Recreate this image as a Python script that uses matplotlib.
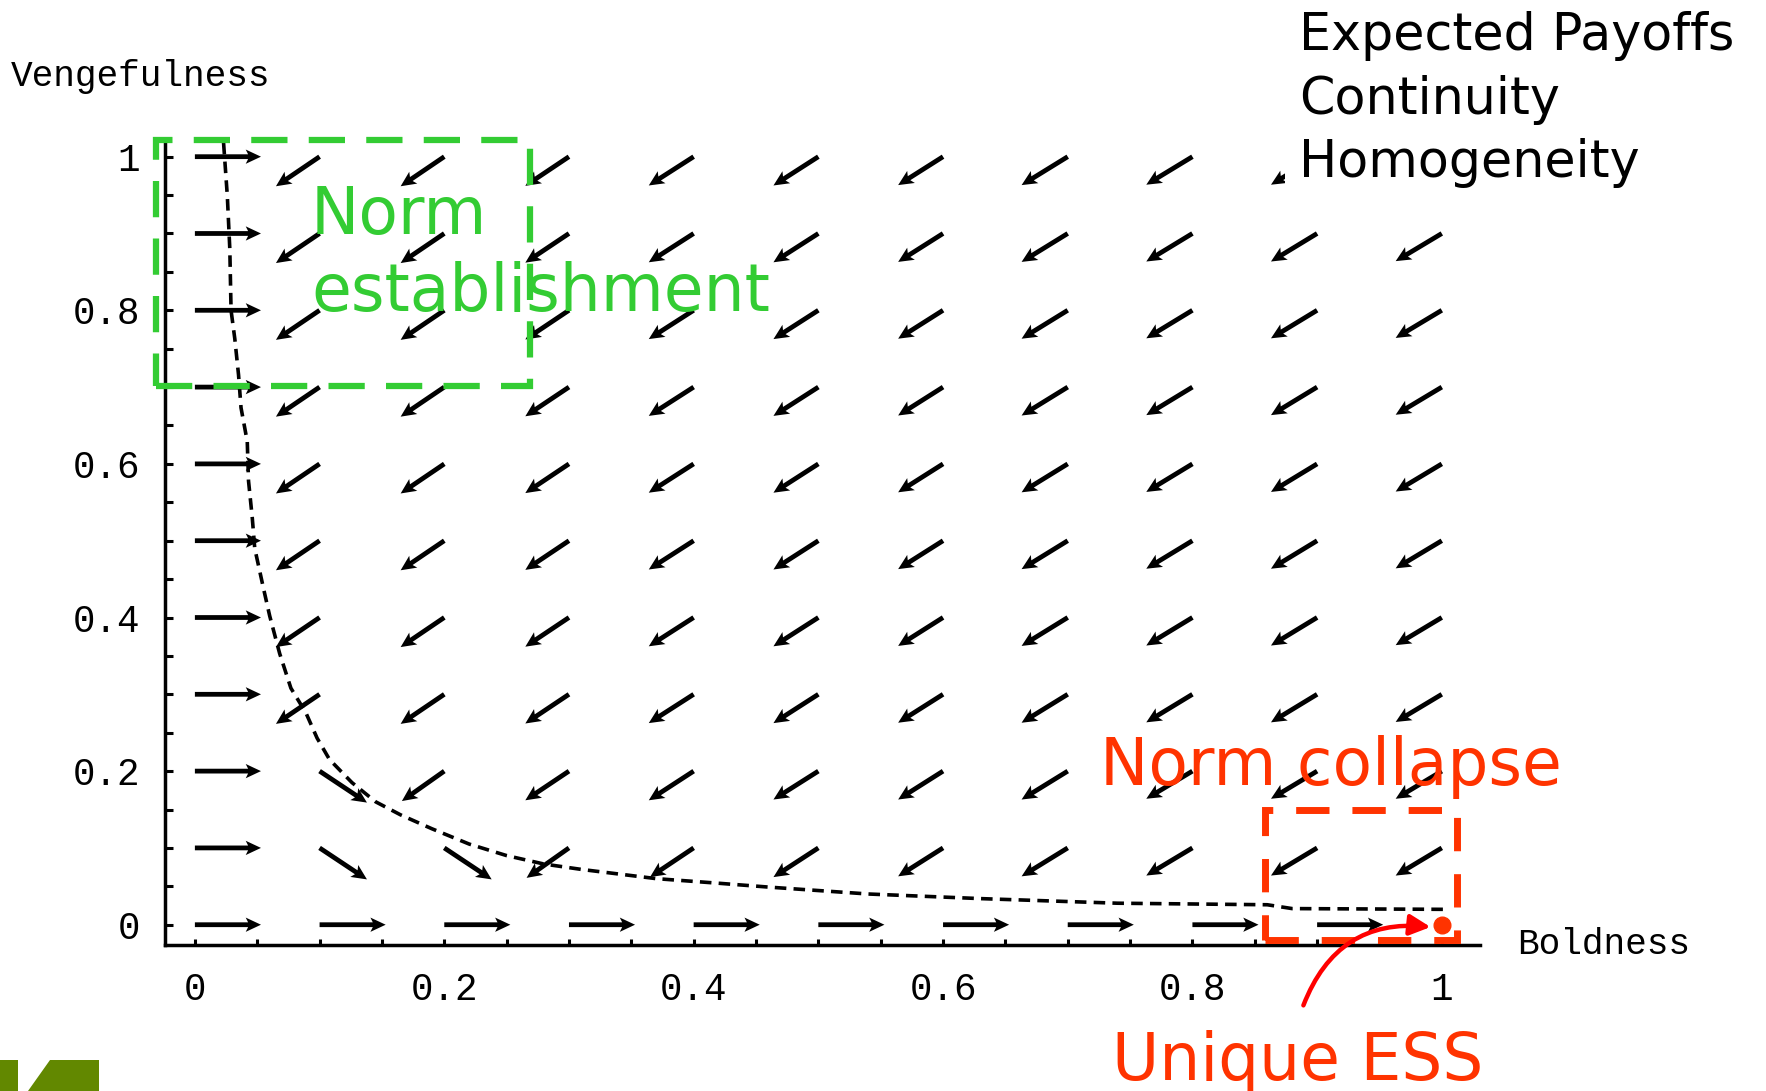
import matplotlib.pyplot as plt
import matplotlib.patches as mpatches
import numpy as np

plt.rcParams['font.family'] = ['Liberation Mono', 'DejaVu Sans Mono']

# grid of the vector field
boldness = [0.0, 0.1, 0.2, 0.3, 0.4, 0.5, 0.6, 0.7, 0.8, 0.9, 1.0]
vengefulness = [0.0, 0.1, 0.2, 0.3, 0.4, 0.5, 0.6, 0.7, 0.8, 0.9, 1.0]

# arrow components, one row per vengefulness value (bottom to top)
U = [
    [0.053, 0.053, 0.053, 0.053, 0.053, 0.053, 0.053, 0.053, 0.053, 0.053, 0.0],
    [0.053, 0.038, 0.038, -0.034, -0.035, -0.036, -0.036, -0.037, -0.037, -0.037, -0.037],
    [0.053, 0.038, -0.034, -0.035, -0.036, -0.036, -0.036, -0.037, -0.037, -0.037, -0.037],
    [0.053, -0.035, -0.035, -0.035, -0.036, -0.036, -0.036, -0.037, -0.037, -0.037, -0.037],
    [0.053, -0.035, -0.035, -0.035, -0.036, -0.036, -0.036, -0.037, -0.037, -0.037, -0.037],
    [0.053, -0.035, -0.035, -0.035, -0.036, -0.036, -0.036, -0.037, -0.037, -0.037, -0.037],
    [0.053, -0.035, -0.035, -0.035, -0.036, -0.036, -0.036, -0.037, -0.037, -0.037, -0.037],
    [0.053, -0.035, -0.035, -0.035, -0.036, -0.036, -0.036, -0.037, -0.037, -0.037, -0.037],
    [0.053, -0.035, -0.035, -0.035, -0.036, -0.036, -0.036, -0.037, -0.037, -0.037, -0.037],
    [0.053, -0.035, -0.035, -0.035, -0.036, -0.036, -0.036, -0.037, -0.037, -0.037, -0.037],
    [0.053, -0.035, -0.035, -0.035, -0.036, -0.036, -0.036, -0.037, -0.037, -0.037, -0.037],
]
V = [
    [0.0, 0.0, 0.0, 0.0, 0.0, 0.0, 0.0, 0.0, 0.0, 0.0, 0.0],
    [0.0, -0.041, -0.041, -0.039, -0.038, -0.038, -0.037, -0.037, -0.036, -0.036, -0.036],
    [0.0, -0.041, -0.039, -0.038, -0.038, -0.037, -0.037, -0.037, -0.036, -0.036, -0.036],
    [0.0, -0.0385, -0.0385, -0.038, -0.0375, -0.0375, -0.037, -0.037, -0.0365, -0.0365, -0.036],
    [0.0, -0.0385, -0.0385, -0.038, -0.0375, -0.0375, -0.037, -0.037, -0.0365, -0.0365, -0.036],
    [0.0, -0.0385, -0.0385, -0.038, -0.0375, -0.0375, -0.037, -0.037, -0.0365, -0.0365, -0.036],
    [0.0, -0.0385, -0.0385, -0.038, -0.0375, -0.0375, -0.037, -0.037, -0.0365, -0.0365, -0.036],
    [0.0, -0.0385, -0.0385, -0.038, -0.0375, -0.0375, -0.037, -0.037, -0.0365, -0.0365, -0.036],
    [0.0, -0.0385, -0.0385, -0.038, -0.0375, -0.0375, -0.037, -0.037, -0.0365, -0.0365, -0.036],
    [0.0, -0.0385, -0.0385, -0.038, -0.0375, -0.0375, -0.037, -0.037, -0.0365, -0.0365, -0.036],
    [0.0, -0.0385, -0.0385, -0.038, -0.0375, -0.0375, -0.037, -0.037, -0.0365, -0.0365, -0.036],
]

# dashed separatrix
curve_x = [0.023, 0.026, 0.028, 0.029, 0.032, 0.035, 0.037, 0.042, 0.043, 0.046, 0.048,
           0.055, 0.060, 0.068, 0.077, 0.089, 0.098, 0.108, 0.126, 0.145, 0.165, 0.19,
           0.22, 0.25, 0.28, 0.31, 0.33, 0.37, 0.42, 0.46, 0.54, 0.63, 0.74, 0.86, 0.88, 1.005]
curve_y = [1.018, 0.949, 0.88, 0.80, 0.763, 0.716, 0.673, 0.629, 0.578, 0.53, 0.49,
           0.438, 0.402, 0.353, 0.308, 0.276, 0.243, 0.215, 0.185, 0.16, 0.143, 0.125,
           0.105, 0.09, 0.079, 0.072, 0.068, 0.06, 0.054, 0.049, 0.04, 0.034, 0.028, 0.026, 0.021, 0.02]

ess_x = [1.0]
ess_y = [0.0]

x_ticks = [0, 0.2, 0.4, 0.6, 0.8, 1]
x_tick_labels = ['0', '0.2', '0.4', '0.6', '0.8', '1']
y_ticks = [0, 0.2, 0.4, 0.6, 0.8, 1]
y_tick_labels = ['0', '0.2', '0.4', '0.6', '0.8', '1']
minor_ticks = np.arange(0, 1.001, 0.05)

W, H = 1766, 1091
fig = plt.figure(figsize=(W / 100, H / 100), dpi=100)
ax = fig.add_axes([0, 0, 1, 1])
ax.set_xlim(-0.1563, 1.2600)
ax.set_ylim(-0.2165, 1.2040)

# axes lines
for s in ['top', 'right']:
    ax.spines[s].set_visible(False)
ax.spines['left'].set_position(('data', -0.024))
ax.spines['left'].set_bounds(-0.027, 1.02)
ax.spines['bottom'].set_position(('data', -0.027))
ax.spines['bottom'].set_bounds(-0.024, 1.031)
for s in ['left', 'bottom']:
    ax.spines[s].set_linewidth(2.5)

ax.set_xticks(x_ticks)
ax.set_xticklabels(x_tick_labels)
ax.set_xticks(minor_ticks, minor=True)
ax.set_yticks(y_ticks)
ax.set_yticklabels(y_tick_labels)
ax.set_yticks(minor_ticks, minor=True)
ax.tick_params(axis='x', which='both', direction='in', length=4, width=2.2, pad=19, labelsize=27)
ax.tick_params(axis='y', which='both', direction='in', length=6, width=2.2, pad=18, labelsize=27)

# vector field
X, Y = np.meshgrid(boldness, vengefulness)
Ua = np.array(U)
Va = np.array(V)
keep = (Ua != 0) | (Va != 0)
ax.quiver(X[keep], Y[keep], Ua[keep], Va[keep], angles='xy', scale_units='xy', scale=1,
          width=0.0027, headwidth=3.0, headlength=3.2, headaxislength=2.7,
          color='black', zorder=3)

ax.plot(curve_x, curve_y, color='black', lw=2.6, dashes=(3.2, 2.0), zorder=4)

# highlighted regions
ax.add_patch(mpatches.Rectangle((-0.031, 0.702), 0.300, 0.320, fill=False,
                                edgecolor='#33CC33', lw=4.5, linestyle=(0, (5.8, 3.4)), zorder=5))
ax.add_patch(mpatches.Rectangle((0.858, -0.020), 0.154, 0.170, fill=False,
                                edgecolor='#FF3300', lw=5, linestyle=(0, (4.8, 3.3)), zorder=5))
ax.plot(ess_x, ess_y, 'o', ms=12, color='#FF3300', zorder=6)
ax.annotate('', xy=(0.991, -0.003), xytext=(0.889, -0.105),
            arrowprops=dict(arrowstyle='-|>,head_length=0.5,head_width=0.25', color='#FF0000',
                            lw=3.2, connectionstyle='arc3,rad=-0.38', mutation_scale=25,
                            shrinkA=0, shrinkB=0), zorder=6)

# axis names
fig.text(11 / W, 1 - 77 / H, 'Vengefulness', fontsize=26, va='center', ha='left')
fig.text(1517 / W, 1 - 944 / H, 'Boldness', fontsize=26, va='center', ha='left')

# white panel behind the assumptions list
fig.add_artist(mpatches.Rectangle((1285 / W, 1 - 200 / H), (W - 1285) / W, 200 / H,
                                  transform=fig.transFigure, facecolor='white',
                                  edgecolor='none', zorder=2))
sans = ['DejaVu Sans']
for line, base in [('Expected Payoffs', 50), ('Continuity', 114), ('Homogeneity', 177)]:
    fig.text(1299 / W, 1 - base / H, line, fontsize=36.5, family=sans, va='baseline', ha='left')

fig.text(311 / W, 1 - 234 / H, 'Norm', fontsize=46.5, family=sans, color='#33CC33', va='baseline')
fig.text(311 / W, 1 - 311 / H, 'establishment', fontsize=46.5, family=sans, color='#33CC33', va='baseline')
fig.text(1100 / W, 1 - 785 / H, 'Norm collapse', fontsize=46.5, family=sans, color='#FF3300', va='baseline')
fig.text(1112 / W, 1 - 1080 / H, 'Unique ESS', fontsize=46.5, family=sans, color='#FF3300', va='baseline')

# logo fragment at bottom left
fig.add_artist(mpatches.Rectangle((0, 0), 18 / W, 31 / H, transform=fig.transFigure,
                                  facecolor='#628800', edgecolor='none'))
fig.add_artist(mpatches.Polygon([(28 / W, 0), (50 / W, 31 / H), (99 / W, 31 / H), (99 / W, 0)],
                                closed=True, transform=fig.transFigure,
                                facecolor='#628800', edgecolor='none'))

fig.savefig('out.png', dpi=100)
